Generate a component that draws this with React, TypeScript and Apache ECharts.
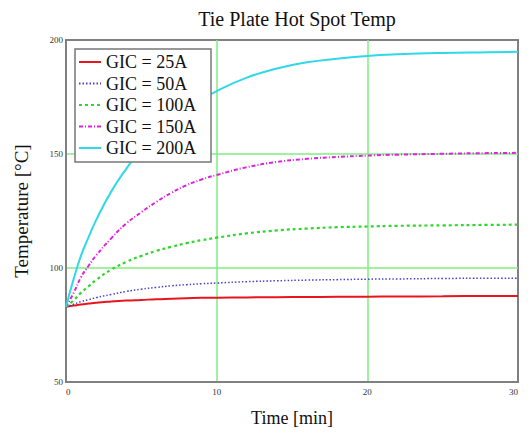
import React, { useEffect, useRef } from "react";
import * as echarts from "echarts";

const times = [0, 0.5, 1, 1.5, 2, 3, 4, 5, 6, 7, 8, 9, 10, 12, 14, 16, 18, 20, 22, 25, 28, 30];
const gic25 = [83, 83.5, 84, 84.4, 84.8, 85.3, 85.7, 86, 86.3, 86.5, 86.7, 86.9, 87, 87.1, 87.2, 87.3, 87.35, 87.4, 87.5, 87.6, 87.7, 87.7];
const gic50 = [83, 84.1, 85.3, 86.1, 87, 88.4, 89.7, 90.7, 91.5, 92.2, 92.7, 93.1, 93.4, 94, 94.4, 94.7, 94.9, 95.1, 95.2, 95.4, 95.5, 95.5];
const gic100 = [83, 85.8, 89.2, 92, 94.8, 99.3, 102.7, 105.3, 107.5, 109.3, 110.9, 112.2, 113.3, 115.2, 116.5, 117.3, 117.9, 118.2, 118.5, 118.7, 118.9, 119];
const gic150 = [83, 89, 96, 101, 105.5, 113, 119.5, 124.5, 129, 133, 136.3, 138.8, 140.8, 144.2, 146.5, 147.9, 148.7, 149.3, 149.7, 150.1, 150.4, 150.5];
const gic200 = [83, 95, 105.5, 113.5, 121, 133.5, 143.5, 152, 158.5, 164.3, 169.2, 173.6, 177.6, 183.5, 187.5, 190.2, 191.8, 193, 193.7, 194.3, 194.6, 194.8];

const seriesNames = ["GIC = 25A", "GIC = 50A", "GIC = 100A", "GIC = 150A", "GIC = 200A"];
const seriesValues = [gic25, gic50, gic100, gic150, gic200];
const seriesColors = ["#e8141e", "#4a3fc8", "#2ed62e", "#e020e0", "#30d8e8"];
const seriesWidths = [2, 1.5, 2.2, 2, 2];
const seriesDash: any[] = ["solid", [1.5, 2], [3, 3], [4, 2, 1, 2], "solid"];

const FONT = "Liberation Serif, Times New Roman, serif";

export default function App() {
  const ref = useRef<HTMLDivElement>(null);
  useEffect(() => {
    if (!ref.current) return;
    const chart = echarts.init(ref.current, undefined, { renderer: "svg" });
    chart.setOption({
      animation: false,
      backgroundColor: "#ffffff",
      title: {
        text: "Tie Plate Hot Spot Temp",
        left: 292,
        textAlign: "center",
        top: 4,
        textStyle: { fontFamily: FONT, fontSize: 20, fontWeight: "normal", color: "#111" },
      },
      grid: {
        left: 66,
        right: 12,
        top: 40,
        bottom: 50,
        show: true,
        borderColor: "#808080",
        borderWidth: 2,
        backgroundColor: "transparent",
      },
      xAxis: {
        type: "value",
        min: 0,
        max: 30,
        interval: 10,
        name: "Time [min]",
        nameLocation: "middle",
        nameGap: 27,
        nameTextStyle: { fontFamily: FONT, fontSize: 18, color: "#111" },
        axisLine: { show: true, lineStyle: { color: "#808080", width: 2 } },
        axisTick: { show: false },
        axisLabel: {
          fontFamily: FONT,
          fontSize: 9,
          color: "#333",
          margin: 5,
          alignMinLabel: "left",
          alignMaxLabel: "right",
        },
        splitLine: {
          show: true,
          showMinLine: false,
          showMaxLine: false,
          lineStyle: { color: "#80ee80", width: 1.5 },
        },
      },
      yAxis: {
        type: "value",
        min: 50,
        max: 200,
        interval: 50,
        name: "Temperature [°C]",
        nameLocation: "middle",
        nameGap: 35,
        nameTextStyle: { fontFamily: FONT, fontSize: 19, color: "#111" },
        axisLine: { show: true, lineStyle: { color: "#808080", width: 2 } },
        axisTick: { show: false },
        axisLabel: { fontFamily: FONT, fontSize: 9, color: "#333", margin: 3 },
        splitLine: {
          show: true,
          showMinLine: false,
          showMaxLine: false,
          lineStyle: { color: "#80ee80", width: 1.5 },
        },
      },
      legend: {
        orient: "vertical",
        left: 75,
        top: 49,
        z: 200,
        padding: [3, 0, 0, 3],
        itemWidth: 22,
        itemHeight: 14,
        itemGap: 1.5,
        itemStyle: { opacity: 0 },
        textStyle: { fontFamily: FONT, fontSize: 18, color: "#111", lineHeight: 20 },
        data: seriesNames,
      },
      graphic: {
        elements: [
          {
            type: "rect",
            z: 100,
            shape: { x: 75, y: 49, width: 136, height: 113 },
            style: { fill: "#ffffff", stroke: "#777", lineWidth: 1.5 },
          },
        ],
      },
      series: seriesNames.map((name, i) => ({
        name,
        type: "line",
        symbol: "none",
        showSymbol: false,
        smooth: true,
        data: times.map((t, j) => [t, seriesValues[i][j]]),
        lineStyle: { color: seriesColors[i], width: seriesWidths[i], type: seriesDash[i] },
        itemStyle: { color: seriesColors[i] },
      })),
    });
    return () => chart.dispose();
  }, []);
  return (
    <div
      ref={ref}
      style={{ position: "fixed", left: 0, top: 0, width: 530, height: 432 }}
    />
  );
}
